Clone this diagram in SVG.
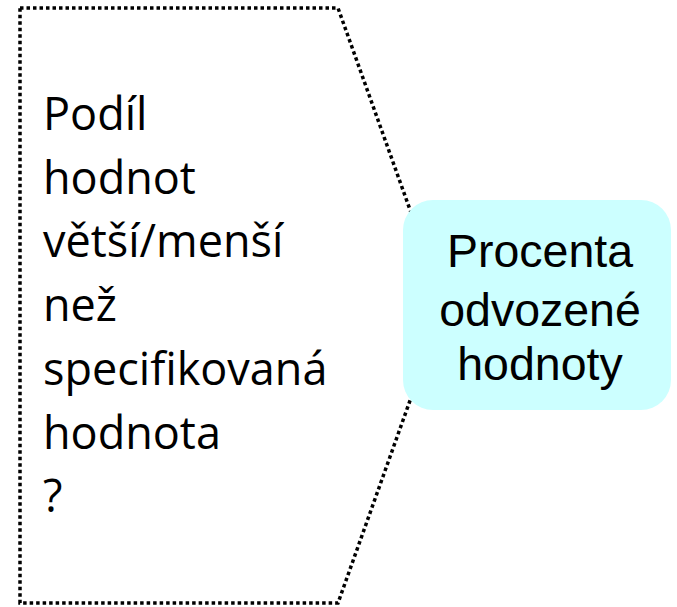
<svg xmlns="http://www.w3.org/2000/svg" width="677" height="607" viewBox="0 0 677 607">
<style>
.callout{fill:#ffffff;stroke:#000000;stroke-width:3.5;stroke-dasharray:3.5 3;stroke-linejoin:miter}
.box{fill:#ccffff;stroke:none}
.lt{font-family:"Open Sans","Noto Sans",sans-serif;font-size:45px;fill:#000000}
.bt{font-family:"Liberation Sans",Arial,sans-serif;font-size:46.5px;fill:#000000;text-anchor:middle}
</style>
<rect width="677" height="607" fill="#ffffff"/>
<g id="callout">
<polygon class="callout" points="20,8 338,8 444,305 338,603 20,603"/>
<text class="lt" x="43" y="130">Podíl</text>
<text class="lt" x="43" y="194">hodnot</text>
<text class="lt" x="43" y="257">větší/menší</text>
<text class="lt" x="43" y="321">než</text>
<text class="lt" x="43" y="385">specifikovaná</text>
<text class="lt" x="43" y="449">hodnota</text>
<text class="lt" x="43" y="512">?</text>
</g>
<g id="connectors"></g>
<g id="box">
<rect class="box" x="403" y="200" width="268" height="210" rx="30" ry="30"/>
<text class="bt" x="540" y="267">Procenta</text>
<text class="bt" x="540" y="326">odvozené</text>
<text class="bt" x="540" y="380">hodnoty</text>
</g>
</svg>
